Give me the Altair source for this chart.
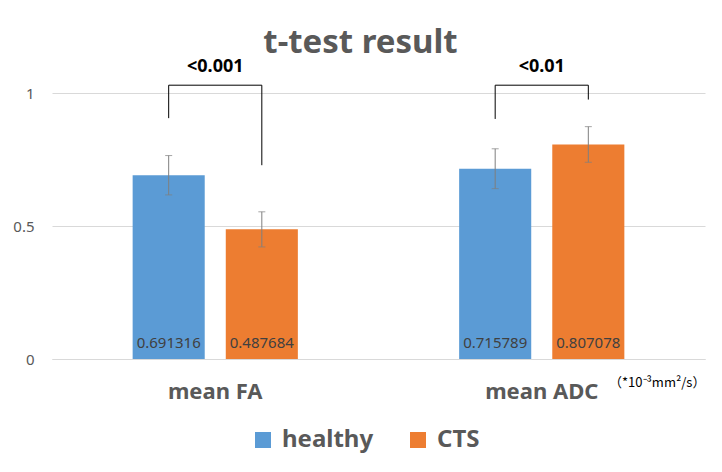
import altair as alt
import pandas as pd

categories = ["mean FA", "mean ADC"]
groups = ["healthy", "CTS"]
means = [0.691316, 0.487684, 0.715789, 0.807078]
errors = [0.074, 0.066, 0.075, 0.067]
labels = ["0.691316", "0.487684", "0.715789", "0.807078"]
p_labels = ["<0.001", "<0.01"]
bracket_top = [1.03, 1.03]
bracket_left_end = [0.906, 0.903]
bracket_right_end = [0.729, 0.976]
colors = ["#5B9BD5", "#ED7D31"]

rows = []
i = 0
for c in categories:
    for g in groups:
        rows.append({"cat": c, "grp": g, "mean": means[i], "lo": means[i] - errors[i],
                     "hi": means[i] + errors[i], "label": labels[i]})
        i += 1
df = pd.DataFrame(rows)

brow = []
for k, c in enumerate(categories):
    pts = [(groups[0], bracket_left_end[k]), (groups[0], bracket_top[k]),
           (groups[1], bracket_top[k]), (groups[1], bracket_right_end[k])]
    for j, (g, v) in enumerate(pts):
        brow.append({"cat": c, "grp": g, "v": v, "seq": j})
bdf = pd.DataFrame(brow)
pdf = pd.DataFrame({"cat": categories, "p": p_labels, "v": [1.10, 1.10]})

FONT = "Noto Sans"
GRAY = "#595959"

xenc = alt.X("cat:N", sort=categories, title=None,
             scale=alt.Scale(paddingInner=0.494, paddingOuter=0.247),
             axis=alt.Axis(labelAngle=0, labelFontSize=22, labelFontWeight="bold",
                           labelColor=GRAY, labelFont=FONT, ticks=False, labelPadding=22,
                           domainColor="#d9d9d9", grid=False))
xoff = alt.XOffset("grp:N", sort=groups, scale=alt.Scale(paddingInner=0.226, paddingOuter=0))
yscale = alt.Scale(domain=[0, 1.2])

bars = alt.Chart(df).mark_bar().encode(
    x=xenc, xOffset=xoff,
    y=alt.Y("mean:Q", scale=yscale, title=None,
            axis=alt.Axis(values=[0, 0.5, 1], format="~g", domain=False, ticks=False,
                          labelFontSize=15, labelColor=GRAY, labelFont=FONT, labelPadding=18,
                          gridColor="#d9d9d9")),
    color=alt.Color("grp:N", sort=groups, scale=alt.Scale(domain=groups, range=colors),
                    legend=alt.Legend(title=None, orient="none", direction="horizontal",
                                      legendX=199, legendY=388, symbolType="square",
                                      symbolSize=256, symbolStrokeWidth=0, labelFontSize=24,
                                      labelFontWeight="bold", labelColor=GRAY, labelFont=FONT,
                                      labelOffset=7, columnPadding=32)),
)

ebar = alt.Chart(df).mark_rule(color="#7f7f7f", strokeWidth=1).encode(
    x=alt.X("cat:N", sort=categories), xOffset=xoff, y="lo:Q", y2="hi:Q")
caplo = alt.Chart(df).mark_tick(color="#7f7f7f", size=7, thickness=1, orient="horizontal").encode(
    x=alt.X("cat:N", sort=categories), xOffset=xoff, y="lo:Q")
caphi = alt.Chart(df).mark_tick(color="#7f7f7f", size=7, thickness=1, orient="horizontal").encode(
    x=alt.X("cat:N", sort=categories), xOffset=xoff, y="hi:Q")

vals = alt.Chart(df).mark_text(fontSize=15, color="#404040", font=FONT, baseline="middle", dy=-16).encode(
    x=alt.X("cat:N", sort=categories), xOffset=xoff, y=alt.datum(0), text="label:N")

brackets = alt.Chart(bdf).mark_line(color="#000000", strokeWidth=1).encode(
    x=alt.X("cat:N", sort=categories), xOffset=alt.XOffset("grp:N", sort=groups), y="v:Q",
    detail="cat:N", order="seq:Q")

ptext = alt.Chart(pdf).mark_text(fontSize=18, fontWeight="bold", color="#000000", font=FONT,
                                 baseline="middle").encode(
    x=alt.X("cat:N", sort=categories), y="v:Q", text="p:N")

unit = alt.Chart(pd.DataFrame({"t": ["（*10⁻³mm²/s）"]})).mark_text(
    fontSize=13, color="#000000", font="Noto Sans CJK JP", align="left", baseline="middle").encode(
    x=alt.value(557), y=alt.value(343), text="t:N")

chart = alt.layer(bars, ebar, caplo, caphi, vals, brackets, ptext, unit).properties(
    width=653, height=319,
    background="white",
    title=alt.TitleParams("t-test result", fontSize=33, fontWeight="bold", color=GRAY,
                          font=FONT, anchor="middle", dy=24, dx=-18),
    autosize=alt.AutoSizeParams(type="none"),
    padding={"left": 44, "top": 32, "right": 9, "bottom": 105},
).configure_view(stroke=None)

chart.save("out.html", embed_options={"renderer": "svg", "actions": False})
